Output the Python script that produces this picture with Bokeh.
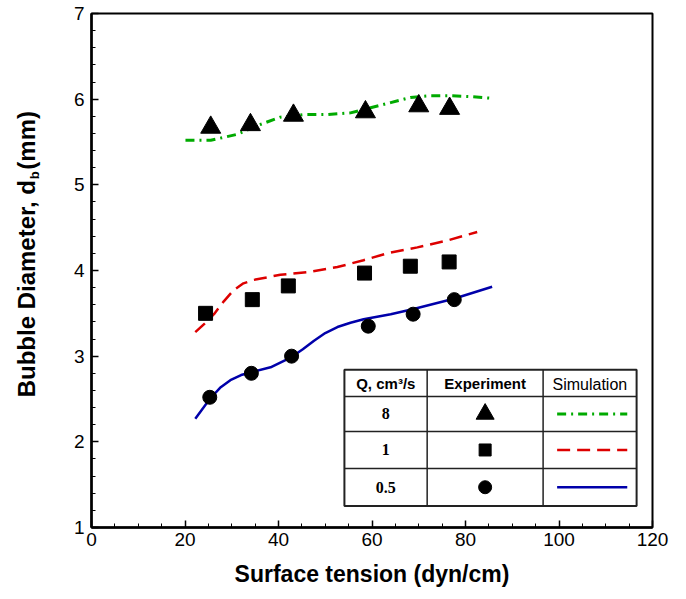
import math
from bokeh.plotting import figure
from bokeh.layouts import row
from bokeh.models import Range1d, SingleIntervalTicker, Label
from bokeh.core.properties import value
from bokeh.embed import file_html
from bokeh.resources import INLINE

# ---- data ----
# Experiment (symbols)
exp8_x = [25.5, 34.0, 43.2, 58.6, 70.0, 76.6]
exp8_y = [5.67, 5.70, 5.81, 5.85, 5.92, 5.89]
exp1_x = [24.4, 34.4, 42.1, 58.4, 68.2, 76.5]
exp1_y = [3.50, 3.66, 3.82, 3.97, 4.05, 4.10]
exp05_x = [25.3, 34.2, 42.8, 59.2, 68.8, 77.6]
exp05_y = [2.52, 2.80, 3.00, 3.35, 3.49, 3.66]

# Simulation (lines)
sim8_x = [20.1, 25.5, 31.2, 35.4, 40.4, 45.4, 50.4, 55.4, 59.7, 64.0, 68.2, 72.5, 76.8, 81.1, 85.7]
sim8_y = [5.52, 5.52, 5.59, 5.69, 5.79, 5.82, 5.82, 5.84, 5.90, 5.96, 6.02, 6.04, 6.04, 6.03, 6.01]
sim1_x = [22.2, 24.2, 26.2, 28.3, 30.4, 32.5, 34.7, 40.4, 46.1, 52.6, 58.2, 63.2, 69.7, 76.1, 82.5]
sim1_y = [3.28, 3.38, 3.49, 3.64, 3.77, 3.85, 3.89, 3.95, 3.98, 4.04, 4.12, 4.20, 4.27, 4.35, 4.45]
sim05_x = [22.2, 25.3, 27.5, 29.7, 32.0, 34.0, 38.3, 42.8, 45.2, 47.6, 50.0, 52.6, 55.4, 58.2, 64.0, 68.9, 77.5, 85.7]
sim05_y = [2.27, 2.50, 2.63, 2.72, 2.78, 2.81, 2.87, 2.99, 3.08, 3.18, 3.27, 3.34, 3.39, 3.43, 3.49, 3.55, 3.67, 3.81]

flow_labels = ["8", "1", "0.5"]
x_label = "Surface tension (dyn/cm)"
y_label_main = "Bubble Diameter, d"
y_label_sub = "b"
y_label_end = "(mm)"

GREEN = "#00aa00"
RED = "#dd0000"
BLUE = "#0000aa"
FONT = "Liberation Sans"

# ---- left strip carrying the y-axis title (with subscript) ----
LW = 50
lp = figure(width=LW, height=599, output_backend="svg", toolbar_location=None,
            x_range=Range1d(0, LW), y_range=Range1d(0, 599),
            x_axis_type=None, y_axis_type=None, min_border=0)
lp.xgrid.visible = False
lp.ygrid.visible = False
lp.outline_line_color = None
lp.text(x=[26], y=[599 - 194], text=[y_label_main], angle=math.pi / 2,
        text_align="right", text_baseline="middle", text_font=value(FONT),
        text_font_size="24px", text_font_style="bold", text_color="black")
lp.text(x=[34], y=[599 - 188.5], text=[y_label_sub], angle=math.pi / 2,
        text_align="center", text_baseline="middle", text_font=value(FONT),
        text_font_size="13px", text_font_style="bold", text_color="black")
lp.text(x=[26], y=[599 - 182], text=[y_label_end], angle=math.pi / 2,
        text_align="left", text_baseline="middle", text_font=value(FONT),
        text_font_size="24px", text_font_style="bold", text_color="black")

# ---- main plot ----
p = figure(width=686 - LW, height=599, output_backend="svg", toolbar_location=None,
           x_range=Range1d(0, 120), y_range=Range1d(1, 7),
           min_border_left=91 - LW, min_border_right=34, min_border_top=13, min_border_bottom=72)
p.xgrid.visible = False
p.ygrid.visible = False
p.outline_line_color = "black"
p.outline_line_width = 2
p.background_fill_color = "white"
p.border_fill_color = "white"

p.xaxis.ticker = SingleIntervalTicker(interval=20, num_minor_ticks=4)
p.yaxis.ticker = SingleIntervalTicker(interval=1, num_minor_ticks=5)
for ax in (p.xaxis, p.yaxis):
    ax.axis_line_width = 2.5
    ax.axis_line_color = "black"
    ax.major_tick_in = 7
    ax.major_tick_out = 0
    ax.minor_tick_in = 4
    ax.minor_tick_out = 0
    ax.major_tick_line_width = 1.5
    ax.minor_tick_line_width = 1
    ax.major_tick_line_color = "black"
    ax.minor_tick_line_color = "black"
    ax.major_label_text_font = FONT
    ax.major_label_text_font_size = "19px"
    ax.major_label_text_color = "black"
p.xaxis.major_label_standoff = 5
p.yaxis.major_label_standoff = 7
p.xaxis.axis_label = x_label
p.xaxis.axis_label_text_font = FONT
p.xaxis.axis_label_text_font_size = "23px"
p.xaxis.axis_label_text_font_style = "bold"
p.xaxis.axis_label_text_color = "black"
p.xaxis.axis_label_standoff = 12

# simulation lines
p.line(sim8_x, sim8_y, line_color=GREEN, line_width=3, line_dash="9 5 2 5")
p.line(sim1_x, sim1_y, line_color=RED, line_width=2.5, line_dash="13 7")
p.line(sim05_x, sim05_y, line_color=BLUE, line_width=2.5)

# experiment markers
p.scatter(exp8_x, exp8_y, marker="triangle", size=20, fill_color="black", line_color="black")
p.scatter(exp1_x, exp1_y, marker="square", size=14, fill_color="black", line_color="black")
p.scatter(exp05_x, exp05_y, marker="circle", size=14, fill_color="black", line_color="black")

# ---- table legend ----
tx = [54.1, 71.8, 96.6, 116.6]
ty = [2.84, 2.53, 2.12, 1.69, 1.25]
p.quad(left=tx[0], right=tx[3], bottom=ty[4], top=ty[0], fill_color="white",
       line_color="#222222", line_width=2)
p.segment(x0=[tx[0]] * 3, y0=ty[1:4], x1=[tx[3]] * 3, y1=ty[1:4],
          line_color="#222222", line_width=1.5)
p.segment(x0=tx[1:3], y0=[ty[0]] * 2, x1=tx[1:3], y1=[ty[4]] * 2,
          line_color="#222222", line_width=1.5)

hy = (ty[0] + ty[1]) / 2
p.add_layout(Label(x=(tx[0] + tx[1]) / 2, y=hy, text="Q, cm\u00b3/s", text_align="center",
                   text_baseline="middle", text_font=FONT, text_font_size="15px",
                   text_font_style="bold", text_color="black"))
p.add_layout(Label(x=(tx[1] + tx[2]) / 2, y=hy, text="Experiment", text_align="center",
                   text_baseline="middle", text_font=FONT, text_font_size="15px",
                   text_font_style="bold", text_color="black"))
p.add_layout(Label(x=(tx[2] + tx[3]) / 2, y=hy - 0.02, text="Simulation", text_align="center",
                   text_baseline="middle", text_font=FONT, text_font_size="16px",
                   text_color="black"))

row_y = [(ty[i] + ty[i + 1]) / 2 for i in range(1, 4)]
for lab, ry in zip(flow_labels, row_y):
    p.add_layout(Label(x=(tx[0] + tx[1]) / 2, y=ry, text=lab, text_align="center",
                       text_baseline="middle", text_font="Liberation Serif",
                       text_font_size="16px", text_font_style="bold", text_color="black"))

mx = (tx[1] + tx[2]) / 2
p.scatter([mx], [row_y[0]], marker="triangle", size=18, fill_color="black", line_color="black")
p.scatter([mx], [row_y[1]], marker="square", size=12, fill_color="black", line_color="black")
p.scatter([mx], [row_y[2]], marker="circle", size=13, fill_color="black", line_color="black")

lx = [99.6, 114.6]
p.line(lx, [row_y[0]] * 2, line_color=GREEN, line_width=3, line_dash="9 5 2 5")
p.line(lx, [row_y[1]] * 2, line_color=RED, line_width=2.5, line_dash="13 7")
p.line(lx, [row_y[2]] * 2, line_color=BLUE, line_width=2.5)

layout = row(lp, p, spacing=0)
open("out.html", "w").write(file_html(layout, INLINE))
